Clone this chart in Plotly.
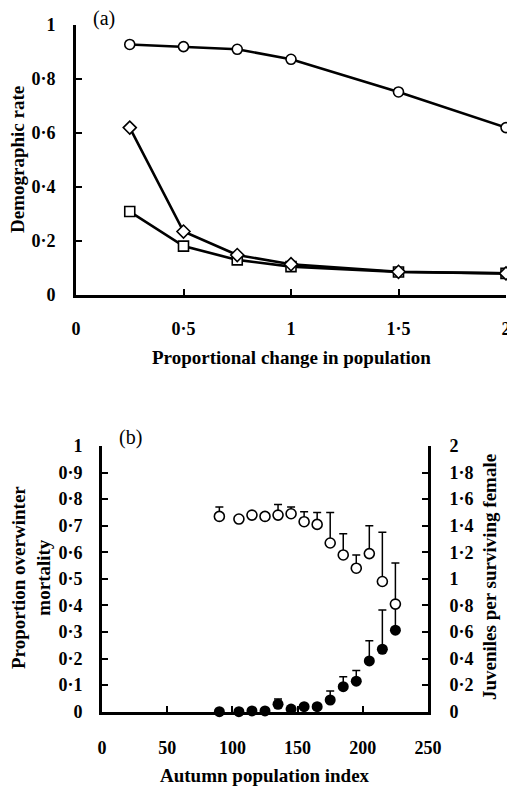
import plotly.graph_objects as go

W, H = 507, 787

# ---------- Panel (a) data ----------
prop_change = [0.25, 0.5, 0.75, 1.0, 1.5, 2.0]
rate_circle = [0.928, 0.920, 0.910, 0.873, 0.752, 0.620]
rate_diamond = [0.620, 0.235, 0.148, 0.114, 0.086, 0.080]
rate_square = [0.309, 0.181, 0.130, 0.105, 0.085, 0.080]

xa_ticks = [0, 0.5, 1, 1.5, 2]
xa_text = ["0", "0·5", "1", "1·5", "2"]
ya_ticks = [0, 0.2, 0.4, 0.6, 0.8, 1]
ya_text = ["0", "0·2", "0·4", "0·6", "0·8", "1"]

# ---------- Panel (b) data ----------
pop_index = [90, 105, 115, 125, 135, 145, 155, 165, 175, 185, 195, 205, 215, 225]
juveniles = [1.47, 1.45, 1.48, 1.47, 1.48, 1.49, 1.43, 1.41, 1.27, 1.18, 1.08, 1.19, 0.98, 0.81]
juveniles_err = [0.07, 0.0, 0.0, 0.0, 0.08, 0.05, 0.075, 0.09, 0.23, 0.16, 0.10, 0.21, 0.37, 0.31]
mortality = [0.0, 0.0, 0.003, 0.003, 0.028, 0.010, 0.019, 0.019, 0.044, 0.094, 0.115, 0.191, 0.235, 0.307]
mortality_err = [0.0, 0.0, 0.0, 0.0, 0.02, 0.005, 0.008, 0.008, 0.034, 0.038, 0.04, 0.076, 0.148, 0.10]

xb_ticks = [0, 50, 100, 150, 200, 250]
xb_text = ["0", "50", "100", "150", "200", "250"]
yb_ticks = [i / 10 for i in range(11)]
yb_text = ["0"] + ["0·%d" % i for i in range(1, 10)] + ["1"]
yr_ticks = [i / 5 for i in range(11)]
yr_text = ["0", "0·2", "0·4", "0·6", "0·8", "1", "1·2", "1·4", "1·6", "1·8", "2"]

SERIF = "Liberation Serif"
tickfont = dict(family=SERIF, size=18, color="black", weight="bold")
titlefont = dict(family=SERIF, size=19, color="black", weight="bold")

fig = go.Figure()

line_style = dict(color="black", width=2.6)
fig.add_trace(go.Scatter(x=prop_change, y=rate_square, mode="lines+markers",
                         line=line_style, cliponaxis=False,
                         marker=dict(symbol="square", size=10, color="white",
                                     line=dict(color="black", width=1.6)),
                         xaxis="x", yaxis="y", showlegend=False))
fig.add_trace(go.Scatter(x=prop_change, y=rate_diamond, mode="lines+markers",
                         line=line_style, cliponaxis=False,
                         marker=dict(symbol="diamond", size=10, color="white",
                                     line=dict(color="black", width=1.6)),
                         xaxis="x", yaxis="y", showlegend=False))
fig.add_trace(go.Scatter(x=prop_change, y=rate_circle, mode="lines+markers",
                         line=line_style, cliponaxis=False,
                         marker=dict(symbol="circle", size=10, color="white",
                                     line=dict(color="black", width=1.6)),
                         xaxis="x", yaxis="y", showlegend=False))

# Panel (b)
fig.add_trace(go.Scatter(x=pop_index, y=mortality, mode="markers", cliponaxis=False,
                         marker=dict(symbol="circle", size=11, color="black"),
                         error_y=dict(type="data", array=mortality_err,
                                      arrayminus=[0] * len(mortality_err),
                                      symmetric=False, color="black", thickness=1.5, width=4),
                         xaxis="x2", yaxis="y2", showlegend=False))
fig.add_trace(go.Scatter(x=pop_index, y=juveniles, mode="markers", cliponaxis=False,
                         marker=dict(symbol="circle", size=10, color="white",
                                     line=dict(color="black", width=1.6)),
                         error_y=dict(type="data", array=juveniles_err,
                                      arrayminus=[0] * len(juveniles_err),
                                      symmetric=False, color="black", thickness=1.5, width=4),
                         xaxis="x2", yaxis="y3", showlegend=False))

axis_common = dict(showgrid=False, zeroline=False, showline=True, linecolor="black",
                   linewidth=3, ticks="inside", ticklen=6, tickwidth=2, tickcolor="black",
                   tickfont=tickfont, tickmode="array", automargin=False,
                   ticklabeloverflow="allow")

def px_x(p):
    return p / W

def px_y(p):
    return 1 - p / H

fig.update_layout(
    width=W, height=H,
    margin=dict(l=0, r=0, t=0, b=0, autoexpand=False),
    paper_bgcolor="white", plot_bgcolor="white",
    xaxis=dict(**axis_common, domain=[px_x(76), px_x(506)], range=[0, 2],
               tickvals=xa_ticks, ticktext=xa_text, anchor="y", ticklabelstandoff=15),
    yaxis=dict(**axis_common, domain=[px_y(295), px_y(25)], range=[0, 1],
               tickvals=ya_ticks, ticktext=ya_text, anchor="x", ticklabelstandoff=14),
    xaxis2=dict(**axis_common, domain=[px_x(102), px_x(428)], range=[0, 250],
                tickvals=xb_ticks, ticktext=xb_text, anchor="y2", ticklabelstandoff=18),
    yaxis2=dict(**axis_common, domain=[px_y(711.7), px_y(446)], range=[0, 1],
                tickvals=yb_ticks, ticktext=yb_text, anchor="x2", ticklabelstandoff=13),
    yaxis3=dict(**axis_common, domain=[px_y(711.7), px_y(446)], range=[0, 2],
                tickvals=yr_ticks, ticktext=yr_text, anchor="x2", overlaying="y2",
                side="right", ticklabelstandoff=15),
)

ann = []
ann.append(dict(text="Demographic rate", x=px_x(18), y=px_y(160), xref="paper", yref="paper",
                textangle=-90, showarrow=False, font=titlefont, xanchor="center", yanchor="middle"))
ann.append(dict(text="Proportional change in population", x=px_x(291), y=px_y(357),
                xref="paper", yref="paper", showarrow=False, font=titlefont,
                xanchor="center", yanchor="middle"))
ann.append(dict(text="Proportion overwinter<br>mortality", x=px_x(31), y=px_y(578),
                xref="paper", yref="paper", textangle=-90, showarrow=False, font=titlefont,
                xanchor="center", yanchor="middle"))
ann.append(dict(text="Juveniles per surviving female", x=px_x(489), y=px_y(577),
                xref="paper", yref="paper", textangle=-90, showarrow=False, font=titlefont,
                xanchor="center", yanchor="middle"))
ann.append(dict(text="Autumn population index", x=px_x(265), y=px_y(775),
                xref="paper", yref="paper", showarrow=False, font=titlefont,
                xanchor="center", yanchor="middle"))
ann.append(dict(text="(a)", x=px_x(103.5), y=px_y(18), xref="paper", yref="paper",
                showarrow=False, font=dict(family=SERIF, size=20, color="black"),
                xanchor="center", yanchor="middle"))
ann.append(dict(text="(b)", x=px_x(130), y=px_y(437), xref="paper", yref="paper",
                showarrow=False, font=dict(family=SERIF, size=20, color="black"),
                xanchor="center", yanchor="middle"))
fig.update_layout(annotations=ann)

fig.write_html("out.html")
